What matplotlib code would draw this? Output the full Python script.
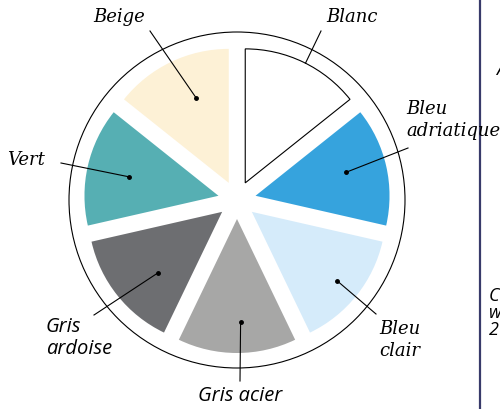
import numpy as np
import matplotlib.pyplot as plt
from matplotlib.patches import Circle

# colour palette chart: seven equal shares
colours = ['Blanc', 'Bleu adriatique', 'Bleu clair', 'Gris acier',
           'Gris ardoise', 'Vert', 'Beige']
shares = [1, 1, 1, 1, 1, 1, 1]
fills = ['#ffffff', '#36a3dd', '#d5ebfa', '#a7a7a6', '#6d6e71', '#56afb3', '#fdf1d6']
label_text = ['Blanc', 'Bleu\nadriatique', 'Bleu\nclair', 'Gris acier',
              'Gris\nardoise', 'Vert', 'Beige']
serif_label = [True, True, True, False, False, True, True]

H = 409  # pixel rows, y measured from top below


def up(y):
    return H - y


# label placement (x, y from top, alignment) and leader line start
label_pos = [(352, 17, 'center'), (406, 120, 'left'), (379, 340, 'left'),
             (240, 396, 'center'), (46, 338, 'left'), (26, 160, 'center'),
             (119, 17, 'center')]
leader_from = [(321, 31), (408, 148), (376, 314), (240, 381), (94, 315),
               (61, 163), (150, 31)]
# where the leader ends inside each wedge (fraction of radius, angle offset)
dot_r = [1.0, 0.70, 0.82, 0.77, 0.66, 0.68, 0.68]
dot_da = [-1, 1.7, -0.4, 2, 5, 0.9, -4.7]

fig = plt.figure(figsize=(5.0, 4.09), dpi=100)
ax = fig.add_axes([0, 0, 1, 1])

cx, cy = 237, up(200)
wedges, _ = ax.pie(shares, colors=fills, radius=134, center=(cx, cy),
                   startangle=90, counterclock=False, explode=[19] * 7,
                   wedgeprops=dict(linewidth=0))
wedges[0].set_edgecolor('black')
wedges[0].set_linewidth(0.8)

ax.add_patch(Circle((cx, cy), 168, fill=False, color='black', lw=0.8))

for i, w in enumerate(wedges):
    mid = np.radians((w.theta1 + w.theta2) / 2 + dot_da[i])
    dx = w.center[0] + dot_r[i] * w.r * np.cos(mid)
    dy = w.center[1] + dot_r[i] * w.r * np.sin(mid)
    lx, ly = leader_from[i]
    ax.plot([lx, dx], [up(ly), dy], color='black', lw=0.8)
    if i > 0:
        ax.plot(dx, dy, 'o', color='black', ms=2.5)
    tx, ty, ha = label_pos[i]
    if serif_label[i]:
        ax.text(tx, up(ty), label_text[i], ha=ha, va='center', fontsize=13,
                family='DejaVu Serif', style='italic', linespacing=1.3)
    else:
        ax.text(tx, up(ty), label_text[i], ha=ha, va='center', fontsize=14.5,
                family='Open Sans', style='italic', linespacing=1.2)

# edge of the neighbouring panel (cut off in the original)
ax.axvline(480, color='#383a6a', lw=1.6)
ax.text(496, up(70), 'A', fontsize=13, family='Open Sans', style='italic',
        va='center')
ax.text(489, up(313), 'C\nw\n2', fontsize=13, family='Open Sans', style='italic',
        va='center', linespacing=0.9)

ax.set_xlim(0, 500)
ax.set_ylim(0, H)
ax.set_aspect('equal')
ax.axis('off')

fig.savefig('out.png', dpi=100)
